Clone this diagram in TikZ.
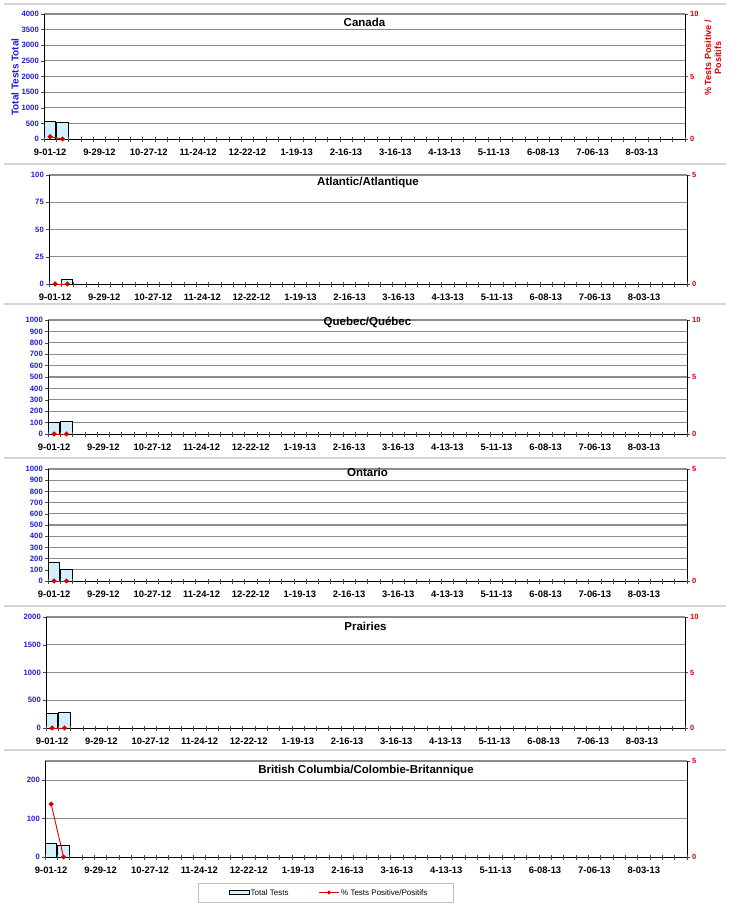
\documentclass[tikz,border=0pt]{standalone}
\usepackage{fontspec}
\setmainfont{Liberation Sans}
\usetikzlibrary{shapes.geometric}
\definecolor{axblue}{RGB}{30,30,210}
\definecolor{axred}{RGB}{215,0,0}
\definecolor{barfill}{RGB}{210,240,252}
\definecolor{gridc}{RGB}{140,140,140}
\definecolor{sepc}{RGB}{212,212,212}
\tikzset{
 grid line/.style={draw=gridc,line width=1.1pt},
 axis line/.style={draw=black,line width=1pt},
 tick mark/.style={draw=black!70,line width=0.5pt},
 ylab/.style={font=\fontsize{7.7}{8}\selectfont\bfseries,text=axblue,inner sep=0pt},
 rlab/.style={font=\fontsize{7.5}{8}\selectfont\bfseries,text=axred,inner sep=0pt},
 xlab/.style={font=\fontsize{9.4}{10}\selectfont\bfseries,inner sep=0pt},
 ptitle/.style={font=\fontsize{11.5}{13}\selectfont\bfseries,inner sep=0pt},
 barbox/.style={draw=black,line width=0.9pt,fill=barfill},
 pctline/.style={draw=axred,line width=0.9pt},
 pctmark/.style={fill=axred,draw=none,diamond,minimum size=5.5pt,inner sep=0pt},
 sepline/.style={draw=sepc,line width=1.6pt},
 legtext/.style={font=\fontsize{8}{9}\selectfont,inner sep=0pt,anchor=west},
}
\newcommand\setpanel[5]{\def\pid{#1}\def\pL{#2}\def\pR{#3}\def\pT{#4}\def\pB{#5}\pgfmathsetmacro\pW{(#3-#2)/52}}
\newcommand\leftaxis[2]{%
  \draw[grid line] (\pL,\pT) -- (\pR,\pT);
  \foreach \v in {#2}{%
    \pgfmathsetmacro\yy{\pB-(\v/#1)*(\pB-\pT)}%
    \ifnum\v>0 \draw[grid line] (\pL,\yy) -- (\pR,\yy);\fi
    \draw[tick mark] (\pL-3,\yy) -- (\pL,\yy);
    \node[ylab,anchor=east] (\pid-l\v) at (\pL-5,\yy) {\v};
  }}
\newcommand\rightaxis[2]{%
  \foreach \v in {#2}{%
    \pgfmathsetmacro\yy{\pB-(\v/#1)*(\pB-\pT)}%
    \draw[tick mark] (\pR,\yy) -- (\pR+3,\yy);
    \node[rlab,anchor=west] (\pid-r\v) at (\pR+5,\yy) {\v};
  }}
\newcommand\xaxis{%
  \foreach \i in {0,...,52}{\draw[tick mark] ({\pL+\i*\pW},\pB-2) -- ({\pL+\i*\pW},\pB+3);}
  \foreach \lab [count=\j from 0] in {9-01-12,9-29-12,10-27-12,11-24-12,12-22-12,1-19-13,2-16-13,3-16-13,4-13-13,5-11-13,6-08-13,7-06-13,8-03-13}{%
    \node[xlab] (\pid-x\j) at ({\pL+4*\j*\pW+0.5*\pW},\pB+13) {\lab};}}
\newcommand\pbar[3]{%
  \pgfmathsetmacro\bt{\pB-(#2/#3)*(\pB-\pT)}%
  \draw[barbox] ({\pL+#1*\pW+0.6},\pB) rectangle ({\pL+#1*\pW+\pW-0.6},\bt);}
\newcommand\axes{\draw[axis line] (\pL,\pT) -- (\pL,\pB) -- (\pR,\pB) -- (\pR,\pT);}
\newcommand\pct[3]{%
  \pgfmathsetmacro\ya{\pB-(#1/#3)*(\pB-\pT)}%
  \pgfmathsetmacro\yb{\pB-(#2/#3)*(\pB-\pT)}%
  \coordinate (\pid-p0) at ({\pL+0.5*\pW},\ya);
  \coordinate (\pid-p1) at ({\pL+1.5*\pW},\yb);
  \draw[pctline] (\pid-p0) -- (\pid-p1);
  \node[pctmark] (\pid-m0) at (\pid-p0) {};
  \node[pctmark] (\pid-m1) at (\pid-p1) {};}
\newcommand\ptitle[2]{\node[ptitle] (\pid-t) at ({(\pL+\pR)/2},#1) {#2};}
\begin{document}
\begin{tikzpicture}[x=1pt,y=-1pt]
\useasboundingbox (0,0) rectangle (730,918);
% separators
\foreach \s in {4,164,304,458,606,750}{\draw[sepline] (4,\s) -- (726,\s);}
% Canada
\setpanel{ca}{44}{685}{14}{139}
\leftaxis{4000}{0,500,...,4000}
\rightaxis{10}{0,5,10}
\pbar{0}{576}{4000}
\pbar{1}{522}{4000}
\axes
\xaxis
\pct{0.18}{0}{10}
\ptitle{22}{Canada}
\node[font=\fontsize{10}{11}\selectfont\bfseries,text=axblue,rotate=90,inner sep=0pt] (ca-ytitle) at (15,77) {Total Tests Total};
\node[font=\fontsize{9}{10}\selectfont\bfseries,text=axred,rotate=90,align=center,inner sep=0pt] (ca-rtitle) at (713,58) {\% Tests Positive /\\Positifs};
% Atlantic
\setpanel{at}{49}{687}{175}{284}
\leftaxis{100}{0,25,50,75,100}
\rightaxis{5}{0,5}
\pbar{1}{4.5}{100}
\axes
\xaxis
\pct{0}{0}{5}
\ptitle{183}{Atlantic/Atlantique}
% Quebec
\setpanel{qc}{48}{687}{320}{434}
\leftaxis{1000}{0,100,...,1000}
\rightaxis{10}{0,5,10}
\pbar{0}{105}{1000}
\pbar{1}{114}{1000}
\axes
\xaxis
\pct{0}{0}{10}
\ptitle{322}{Quebec/Québec}
% Ontario
\setpanel{on}{48}{687}{469}{581}
\leftaxis{1000}{0,100,...,1000}
\rightaxis{5}{0,5}
\pbar{0}{170}{1000}
\pbar{1}{107}{1000}
\axes
\xaxis
\pct{0}{0}{5}
\ptitle{472}{Ontario}
% Prairies
\setpanel{pr}{46}{685}{617}{728}
\leftaxis{2000}{0,500,...,2000}
\rightaxis{10}{0,5,10}
\pbar{0}{270}{2000}
\pbar{1}{272}{2000}
\axes
\xaxis
\pct{0}{0}{10}
\ptitle{626}{Prairies}
% British Columbia
\setpanel{bc}{45}{687}{761}{857}
\leftaxis{250}{0,100,200}
\rightaxis{5}{0,5}
\pbar{0}{36}{250}
\pbar{1}{29}{250}
\axes
\xaxis
\pct{2.76}{0}{5}
\ptitle{771}{British Columbia/Colombie-Britannique}
% legend
\node[draw=gray!50,line width=0.8pt,fill=white,minimum width=255pt,minimum height=19pt,inner sep=0pt] (legend) at (325.5,892.5) {};
\draw[barbox,line width=0.7pt] (229,890.5) rectangle (249,894.5);
\node[legtext] (leg-total) at (250.5,892.5) {Total Tests};
\coordinate (leg-a) at (319,892.5);
\coordinate (leg-b) at (339,892.5);
\draw[pctline,line width=0.7pt] (leg-a) -- (leg-b);
\node[pctmark,minimum size=4.5pt] (leg-m) at (329,892.5) {};
\node[legtext] (leg-pct) at (341,892.5) {\% Tests Positive/Positifs};
\end{tikzpicture}
\end{document}
